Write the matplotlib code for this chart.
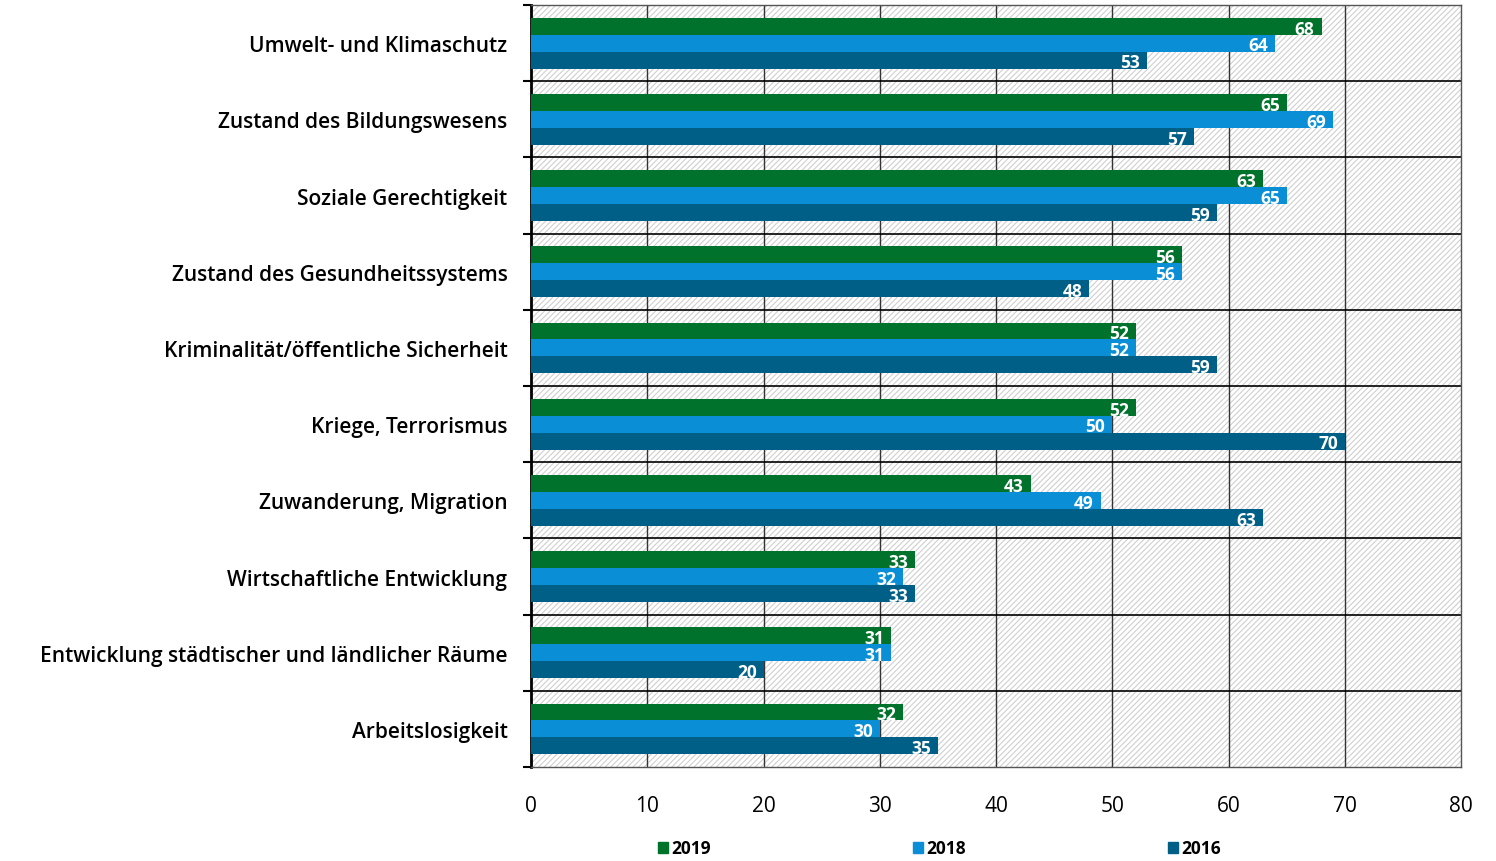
import numpy as np
import matplotlib.pyplot as plt
from matplotlib.patches import Rectangle, Patch

# Data
categories = ['Umwelt- und Klimaschutz', 'Zustand des Bildungswesens', 'Soziale Gerechtigkeit',
              'Zustand des Gesundheitssystems', 'Kriminalität/öffentliche Sicherheit',
              'Kriege, Terrorismus', 'Zuwanderung, Migration', 'Wirtschaftliche Entwicklung',
              'Entwicklung städtischer und ländlicher Räume', 'Arbeitslosigkeit']
years = ['2019', '2018', '2016']
v2019 = [68, 65, 63, 56, 52, 52, 43, 33, 31, 32]
v2018 = [64, 69, 65, 56, 52, 50, 49, 32, 31, 30]
v2016 = [53, 57, 59, 48, 59, 70, 63, 33, 20, 35]
colors = ['#00722B', '#0A8FD6', '#005F87']

plt.rcParams['font.family'] = ['Open Sans', 'DejaVu Sans']
plt.rcParams['hatch.linewidth'] = 0.8

fig = plt.figure(figsize=(14.96, 8.62), dpi=100)
ax = fig.add_axes([0.355, 0.109, 0.6216, 0.884])

n = len(categories)
y = np.arange(n)
h = 0.222
series = [v2019, v2018, v2016]

# hatched background
ax.add_patch(Rectangle((0, -0.5), 80, n, facecolor='white', edgecolor='#CFCFCF',
                       hatch='//////', linewidth=0, zorder=0))

for k, vals in enumerate(series):
    pos = y + (k - 1) * h
    ax.barh(pos, vals, height=h, color=colors[k], zorder=3)
    for p, v in zip(pos, vals):
        ax.text(v - 0.6, p + 0.03, str(v), color='white', ha='right', va='center',
                fontsize=12.5, fontweight='bold', zorder=4)

ax.set_xlim(0, 80)
ax.set_ylim(n - 0.5, -0.5)
ax.set_xticks(np.arange(0, 81, 10))
ax.tick_params(axis='x', length=0, labelsize=15, pad=20)
ax.set_yticks(y)
ax.set_yticklabels(categories, fontsize=15, fontweight='semibold')
ax.tick_params(axis='y', length=0, pad=17)
ax.set_yticks(np.arange(-0.5, n, 1), minor=True)
ax.tick_params(axis='y', which='minor', length=6, width=1.5, direction='out', color='black')

for xv in range(10, 80, 10):
    ax.axvline(xv, color='#333333', lw=1, zorder=1)
for yb in np.arange(0.5, n - 0.5, 1):
    ax.axhline(yb, color='black', lw=1.2, zorder=1)

for s in ['top', 'right', 'bottom']:
    ax.spines[s].set_color('#555555')
    ax.spines[s].set_linewidth(1)
ax.spines['left'].set_color('black')
ax.spines['left'].set_linewidth(2)

handles = [Patch(color=c, label=l) for c, l in zip(colors, years)]
fig.legend(handles=handles, loc='lower center', ncol=3, frameon=False,
           prop={'size': 12.5, 'weight': 'bold'},
           bbox_to_anchor=(0.628, -0.014), handlelength=0.6, handleheight=0.6,
           handletextpad=0.2, columnspacing=11.6)

fig.savefig('out.png', dpi=100)
